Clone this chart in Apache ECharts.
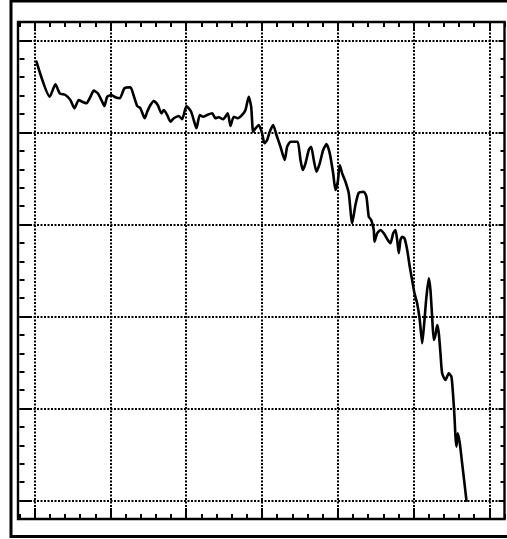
<!DOCTYPE html>
<html>
<head>
<meta charset="utf-8">
<script src="https://cdn.jsdelivr.net/npm/echarts@6/dist/echarts.min.js"></script>
<style>
  html, body { margin: 0; padding: 0; background: #fff; }
  #chart { width: 507px; height: 539px; }
</style>
</head>
<body>
<div id="chart"></div>
<script>
// Measured trace: abscissa (major divisions 0..6) and ordinate (major divisions 0..5)
const xValues = [
  0.024, 0.199, 0.274, 0.331, 0.406, 0.472, 0.525, 0.582, 0.627, 0.684,
  0.736, 0.780, 0.833, 0.891, 0.921, 0.957, 1.013, 1.066, 1.123, 1.185,
  1.264, 1.300, 1.353, 1.396, 1.453, 1.485, 1.528, 1.572, 1.624, 1.673,
  1.704, 1.748, 1.792, 1.836, 1.902, 1.946, 2.003, 2.065, 2.099, 2.135,
  2.179, 2.224, 2.276, 2.342, 2.386, 2.429, 2.487, 2.548, 2.584, 2.627,
  2.680, 2.738, 2.782, 2.825, 2.857, 2.883, 2.914, 2.957, 3.002, 3.032,
  3.068, 3.102, 3.147, 3.191, 3.244, 3.300, 3.332, 3.376, 3.442, 3.472,
  3.508, 3.538, 3.574, 3.617, 3.649, 3.683, 3.719, 3.762, 3.807, 3.851,
  3.894, 3.939, 3.969, 4.000, 4.026, 4.058, 4.101, 4.145, 4.190, 4.233,
  4.277, 4.343, 4.378, 4.409, 4.441, 4.475, 4.484, 4.520, 4.563, 4.607,
  4.660, 4.695, 4.731, 4.761, 4.784, 4.805, 4.827, 4.850, 4.880, 4.916,
  4.950, 4.981, 5.012, 5.047, 5.082, 5.114, 5.144, 5.170, 5.201, 5.223,
  5.245, 5.267, 5.289, 5.312, 5.333, 5.355, 5.377, 5.421, 5.465, 5.500,
  5.523, 5.540, 5.553, 5.566, 5.583, 5.610, 5.641, 5.672, 5.698
];
const yValues = [
  4.769, 4.388, 4.523, 4.425, 4.407, 4.353, 4.262, 4.353, 4.334, 4.317,
  4.388, 4.454, 4.425, 4.334, 4.287, 4.388, 4.407, 4.382, 4.371, 4.480,
  4.491, 4.418, 4.287, 4.262, 4.154, 4.225, 4.298, 4.342, 4.298, 4.208,
  4.244, 4.190, 4.117, 4.154, 4.179, 4.143, 4.287, 4.225, 4.135, 4.045,
  4.190, 4.171, 4.190, 4.208, 4.154, 4.165, 4.143, 4.208, 4.070, 4.171,
  4.154, 4.190, 4.244, 4.388, 4.280, 4.008, 4.045, 4.081, 3.991, 3.882,
  3.918, 4.008, 4.081, 3.972, 3.845, 3.701, 3.845, 3.899, 3.899, 3.899,
  3.701, 3.592, 3.665, 3.809, 3.845, 3.701, 3.574, 3.665, 3.809, 3.874,
  3.773, 3.556, 3.375, 3.465, 3.646, 3.556, 3.465, 3.339, 3.013, 3.212,
  3.345, 3.356, 3.302, 3.085, 3.049, 2.940, 2.813, 2.904, 2.940, 2.904,
  2.831, 2.796, 2.904, 2.940, 2.831, 2.687, 2.831, 2.867, 2.850, 2.723,
  2.541, 2.397, 2.252, 2.144, 1.962, 1.709, 1.962, 2.215, 2.415, 2.288,
  1.998, 1.745, 1.799, 1.908, 1.818, 1.600, 1.383, 1.310, 1.383, 1.346,
  1.129, 0.912, 0.694, 0.586, 0.731, 0.623, 0.405, 0.188, 0.000
];

// Tick positions along each frame edge (every 0.2, major every 1)
const xTickLabels = [
  '-0.2', '0', '0.2', '0.4', '0.6', '0.8', '1', '1.2', '1.4', '1.6', '1.8',
  '2', '2.2', '2.4', '2.6', '2.8', '3', '3.2', '3.4', '3.6', '3.8',
  '4', '4.2', '4.4', '4.6', '4.8', '5', '5.2', '5.4', '5.6', '5.8',
  '6', '6.2'
];
const yTickLabels = [
  '-0.2', '0', '0.2', '0.4', '0.6', '0.8', '1', '1.2', '1.4', '1.6', '1.8',
  '2', '2.2', '2.4', '2.6', '2.8', '3', '3.2', '3.4', '3.6', '3.8',
  '4', '4.2', '4.4', '4.6', '4.8', '5', '5.2'
];
const majorTicks = ['0', '1', '2', '3', '4', '5', '6'];

const isMajor = (i, v) => majorTicks.indexOf(v) >= 0;

function tickAxis(position, labels, len, majorOnly, withGrid) {
  return {
    type: 'category',
    position: position,
    offset: 0,
    data: labels,
    boundaryGap: false,
    axisLine: { show: false },
    axisLabel: { show: false, interval: 0 },
    axisTick: {
      show: true,
      inside: true,
      length: len,
      interval: majorOnly ? isMajor : 0,
      lineStyle: { color: '#000', width: 2 }
    },
    splitLine: withGrid ? {
      show: true,
      interval: isMajor,
      lineStyle: { color: '#000', width: 2, type: [2, 1.5] }
    } : { show: false }
  };
}

const chart = echarts.init(document.getElementById('chart'), null, { renderer: 'canvas' });

const points = xValues.map((x, i) => [x, yValues[i]]);

chart.setOption({
  backgroundColor: '#fff',
  animation: false,
  grid: { left: 19.5, top: 22, width: 485, height: 497, containLabel: false },
  xAxis: [
    { type: 'value', min: -0.2, max: 6.2, show: false },
    tickAxis('bottom', xTickLabels, 5, false, true),
    tickAxis('bottom', xTickLabels, 11, true, false),
    tickAxis('top', xTickLabels, 5, false, false),
    tickAxis('top', xTickLabels, 9, true, false)
  ],
  yAxis: [
    { type: 'value', min: -0.2, max: 5.2, show: false },
    tickAxis('left', yTickLabels, 5, false, true),
    tickAxis('left', yTickLabels, 11, true, false),
    tickAxis('right', yTickLabels, 4, false, false),
    tickAxis('right', yTickLabels, 6, true, false)
  ],
  graphic: [
    {
      type: 'rect',
      shape: { x: 11, y: 1, width: 510, height: 535.5 },
      style: { fill: 'none', stroke: '#000', lineWidth: 3 },
      z: 100
    },
    {
      type: 'rect',
      shape: { x: 18, y: 22, width: 486.5, height: 497 },
      style: { fill: 'none', stroke: '#000', lineWidth: 2.4 },
      z: 100
    }
  ],
  series: [{
    type: 'line',
    xAxisIndex: 0,
    yAxisIndex: 0,
    data: points,
    showSymbol: false,
    symbol: 'none',
    smooth: 0.2,
    lineStyle: { color: '#000', width: 2.6, join: 'round', cap: 'round' },
    z: 5
  }]
});
</script>
</body>
</html>
